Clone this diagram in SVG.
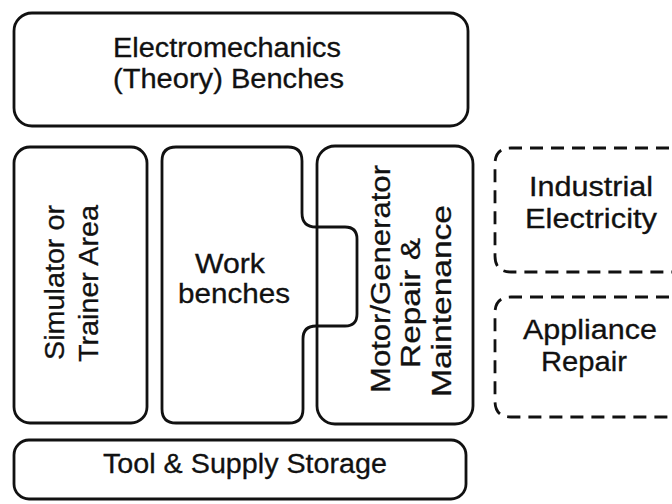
<svg xmlns="http://www.w3.org/2000/svg" width="672" height="504" viewBox="0 0 672 504">
  <style>
    .box { fill: none; stroke: #111; stroke-width: 2.8; stroke-linejoin: round; stroke-linecap: round; }
    .dash { fill: none; stroke: #111; stroke-width: 2.8; stroke-dasharray: 13 8; stroke-linecap: butt; }
    .lbl { font-family: "Liberation Sans", Arial, Helvetica, sans-serif; font-size: 27px; fill: #111; stroke: #111; stroke-width: 0.3; }
  </style>
  <rect width="672" height="504" fill="#fff"/>

  <!-- theory benches along the top wall -->
  <g id="theory-benches">
    <rect class="box" x="14" y="13" width="454" height="113" rx="18" ry="18"/>
    <text class="lbl" x="113" y="57" textLength="228" lengthAdjust="spacingAndGlyphs">Electromechanics</text>
    <text class="lbl" x="113" y="88" textLength="231" lengthAdjust="spacingAndGlyphs">(Theory) Benches</text>
  </g>

  <!-- simulator / trainer area -->
  <g id="simulator-area">
    <rect class="box" x="14" y="147" width="133" height="276" rx="16" ry="16"/>
    <text class="lbl" transform="translate(64,360) rotate(-90)" textLength="155" lengthAdjust="spacingAndGlyphs">Simulator or</text>
    <text class="lbl" transform="translate(98,362) rotate(-90)" textLength="157" lengthAdjust="spacingAndGlyphs">Trainer Area</text>
  </g>

  <!-- work benches, with a tab reaching into the motor/generator area -->
  <g id="work-benches">
    <path class="box" d="M 176 147 H 288 Q 302 147 302 161 V 213 Q 302 227 316 227 H 345 Q 357 227 357 239 V 314 Q 357 326 345 326 H 316 Q 303 326 303 339 V 409 Q 303 423 289 423 H 176 Q 162 423 162 409 V 161 Q 162 147 176 147 Z"/>
    <text class="lbl" x="195" y="273" textLength="70" lengthAdjust="spacingAndGlyphs">Work</text>
    <text class="lbl" x="178" y="303" textLength="112" lengthAdjust="spacingAndGlyphs">benches</text>
  </g>

  <!-- motor / generator repair -->
  <g id="motor-generator">
    <rect class="box" x="317" y="146" width="156" height="278" rx="18" ry="18"/>
    <text class="lbl" transform="translate(390,393) rotate(-90)" textLength="228" lengthAdjust="spacingAndGlyphs">Motor/Generator</text>
    <text class="lbl" transform="translate(420,368) rotate(-90)" textLength="130" lengthAdjust="spacingAndGlyphs">Repair &amp;</text>
    <text class="lbl" transform="translate(451,397) rotate(-90)" textLength="192" lengthAdjust="spacingAndGlyphs">Maintenance</text>
  </g>

  <!-- adjoining labs (dashed, continuing off the right edge) -->
  <g id="industrial-electricity">
    <path class="dash" d="M 690 148 H 511 Q 495 148 495 164 V 256 Q 495 272 511 272 H 690"/>
    <text class="lbl" x="529" y="196" textLength="124" lengthAdjust="spacingAndGlyphs">Industrial</text>
    <text class="lbl" x="525" y="228" textLength="132" lengthAdjust="spacingAndGlyphs">Electricity</text>
  </g>

  <g id="appliance-repair">
    <path class="dash" d="M 690 297 H 511 Q 495 297 495 313 V 401 Q 495 417 511 417 H 690"/>
    <text class="lbl" x="523" y="339" textLength="134" lengthAdjust="spacingAndGlyphs">Appliance</text>
    <text class="lbl" x="541" y="371" textLength="86" lengthAdjust="spacingAndGlyphs">Repair</text>
  </g>

  <!-- storage along the bottom wall -->
  <g id="tool-storage">
    <rect class="box" x="14" y="440" width="452" height="59" rx="15" ry="15"/>
    <text class="lbl" x="103" y="473" textLength="284" lengthAdjust="spacingAndGlyphs">Tool &amp; Supply Storage</text>
  </g>
</svg>
